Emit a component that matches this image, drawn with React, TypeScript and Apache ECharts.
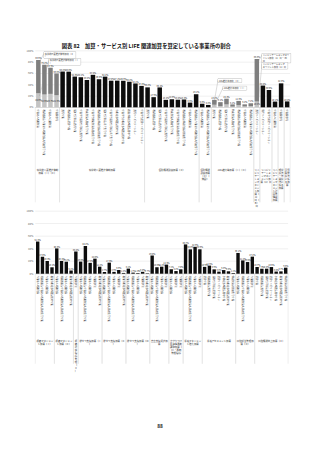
import React, { useEffect, useRef } from "react";
import * as echarts from "echarts";

const TITLE = "図表 82　加算・サービス別 LIFE 関連加算を算定している事業所の割合";
const PAGE_NO = "88";

const SVC = {
  tokuyo: "介護老人福祉施設",
  chiikiTokuyo: "地域密着型介護老人福祉施設入所者生活介護",
  roken: "介護老人保健施設",
  iryoin: "介護医療院",
  tsusho: "通所介護",
  chiikiTsusho: "地域密着型通所介護",
  ninTsusho: "認知症対応型通所介護",
  yoboNinTsusho: "介護予防認知症対応型通所介護",
  tokutei: "特定施設入居者生活介護",
  yoboTokutei: "介護予防特定施設入居者生活介護",
  chiikiTokutei: "地域密着型特定施設入居者生活介護",
  gh: "認知症対応型共同生活介護",
  yoboGh: "介護予防認知症対応型共同生活介護",
  shotaki: "小規模多機能型居宅介護",
  yoboShotaki: "介護予防小規模多機能型居宅介護",
  kantaki: "看護小規模多機能型居宅介護",
  tsuriha: "通所リハビリテーション",
  yoboTsuriha: "介護予防通所リハビリテーション",
  homonriha: "訪問リハビリテーション",
  yoboHomonriha: "介護予防訪問リハビリテーション",
};

// ---------- Chart 1 ----------
const categories1 = [
  SVC.tokuyo, SVC.chiikiTokuyo, SVC.roken, SVC.iryoin,
  SVC.tsusho, SVC.chiikiTsusho, SVC.ninTsusho, SVC.yoboNinTsusho, SVC.tokutei, SVC.yoboTokutei,
  SVC.chiikiTokutei, SVC.gh, SVC.yoboGh, SVC.shotaki, SVC.yoboShotaki, SVC.kantaki, SVC.tsuriha, SVC.yoboTsuriha,
  SVC.tsusho, SVC.chiikiTsusho, SVC.ninTsusho, SVC.yoboNinTsusho, SVC.tokutei, SVC.yoboTokutei,
  SVC.chiikiTokutei, SVC.tokuyo, SVC.chiikiTokuyo,
  SVC.tokuyo, SVC.chiikiTokuyo,
  SVC.tsusho, SVC.chiikiTsusho, SVC.ninTsusho, SVC.tokutei, SVC.chiikiTokutei, SVC.tokuyo, SVC.chiikiTokuyo,
  SVC.tsuriha,
  SVC.homonriha, SVC.yoboHomonriha,
  SVC.roken,
  SVC.iryoin,
  SVC.iryoin,
];
const lightValues1 = [
  24.8, 22.5, 23.7, 21.3,
  null, null, null, null, null, null, null, null, null, null, null, null, null, null,
  null, null, null, null, null, null, null, null, null,
  null, null,
  4.5, 2.0, 5.1, 1.2, 3.8, 1.5, 2.2,
  10.2,
  null, null, null, null, null,
];
const darkValues1 = [
  58.8, 52.7, 46.2, 38.5,
  null, null, null, null, null, null, null, null, null, null, null, null, null, null,
  null, null, null, null, null, null, null, null, null,
  null, null,
  8.7, 7.1, 10.1, 3.9, 7.5, 3.7, 4.9,
  75.1,
  null, null, null, null, null,
];
const blackValues1 = [
  null, null, null, null,
  63.2, 63.0, 54.3, 53.1, 48.2, 57.4, 49.6, 54.2, 47.0, 47.1, 46.9, 45.2, 42.1, 37.8,
  35.2, 17.9, 35.1, 13.2, 14.3, 13.4, 13.8, 8.3, 23.1,
  6.3, 4.2,
  null, null, null, null, null, null, null,
  null,
  38.4, 30.6, 10.1, 42.3, 10.4,
];
const groupSizes1 = [4, 14, 9, 2, 7, 1, 2, 1, 1, 1];
const groupLabels1 = [
  "科学的介護推進体制加算（Ⅰ）（Ⅱ）",
  "科学的介護推進体制加算",
  "個別機能訓練加算（Ⅱ）",
  "個別機能訓練加算（Ⅱ）（施設）",
  "ADL維持等加算（Ⅰ）（Ⅱ）",
  "リハビリテーションマネジメント加算（A）ロ（B）ロ",
  "リハビリテーションマネジメント加算（A）ロ",
  "リハビリテーションマネジメント計画書情報加算",
  "理学療法・作業療法に係る加算",
  "言語聴覚療法に係る加算",
];

// ---------- Chart 2 ----------
const categories2 = [
  SVC.tokuyo, SVC.chiikiTokuyo, SVC.roken, SVC.kantaki,
  SVC.tokuyo, SVC.chiikiTokuyo, SVC.roken, SVC.kantaki,
  SVC.iryoin,
  SVC.tokuyo, SVC.chiikiTokuyo, SVC.roken, SVC.iryoin, SVC.kantaki,
  SVC.tokuyo, SVC.chiikiTokuyo, SVC.roken, SVC.iryoin, SVC.kantaki,
  SVC.tokuyo, SVC.chiikiTokuyo, SVC.roken, SVC.iryoin, SVC.kantaki,
  SVC.tokuyo, SVC.chiikiTokuyo, SVC.roken, SVC.iryoin,
  SVC.roken, SVC.iryoin, SVC.iryoin,
  SVC.tokuyo, SVC.chiikiTokuyo, SVC.roken, SVC.iryoin,
  SVC.tsusho, SVC.chiikiTsusho, SVC.ninTsusho, SVC.tsuriha, SVC.shotaki, SVC.kantaki, SVC.tokutei,
  SVC.tokuyo, SVC.chiikiTokuyo, SVC.roken, SVC.iryoin,
  SVC.tsusho, SVC.chiikiTsusho, SVC.ninTsusho, SVC.tsuriha, SVC.shotaki, SVC.kantaki, SVC.tokutei,
];
const values2 = [
  51.3, 27.0, 20.3, 10.2,
  40.3, 20.4, 19.1, 5.1,
  35.4,
  19.3, 44.2, 17.3, 24.0, 11.2,
  2.7, 17.6, 2.9, 5.9, 1.2,
  8.1, 1.7, 1.0, 3.0, 0.7,
  29.0, 10.3, 11.2, 14.5,
  7.1, 4.2, 7.0,
  46.7, 38.8, 42.9, 38.9,
  10.9, 12.9, 6.9, 3.3, 5.8, 3.8, 1.1,
  33.1, 21.2, 18.6, 27.2,
  10.7, 7.9, 8.0, 10.6, 3.4, 3.7, 9.6,
];
const groupSizes2 = [4, 4, 1, 5, 5, 5, 4, 3, 4, 7, 4, 7];
const groupLabels2 = [
  "褥瘡マネジメント加算（Ⅰ）",
  "褥瘡マネジメント加算（Ⅱ）",
  "褥瘡対策指導管理（Ⅱ）",
  "排せつ支援加算（Ⅰ）",
  "排せつ支援加算（Ⅱ）",
  "排せつ支援加算（Ⅲ）",
  "自立支援促進加算",
  "かかりつけ医連携薬剤調整加算（Ⅱ）・薬剤管理指導",
  "栄養マネジメント強化加算",
  "栄養アセスメント加算",
  "口腔衛生管理加算（Ⅱ）",
  "口腔機能向上加算（Ⅱ）",
];

const FONT = "'Noto Sans CJK JP', 'Noto Sans', sans-serif";
const K = 3; // render at 3x and scale down so tiny fonts are not clamped
const s = (v: number) => v * K;
const fmt = (v: number) => v.toFixed(1) + "%";

function groupSeries(axisIndex: number, sizes: number[], labels: string[], lineLen: number, labelDy: number) {
  const starts: number[] = [];
  let acc = 0;
  sizes.forEach((n) => {
    starts.push(acc);
    acc += n;
  });
  return {
    type: "custom",
    xAxisIndex: axisIndex,
    yAxisIndex: axisIndex,
    clip: false,
    silent: true,
    z: 1,
    encode: { x: 0, y: 1 },
    data: sizes.map((n, i) => [starts[i], 0, starts[i] + n - 1, i]),
    renderItem: (_params: any, api: any) => {
      const st = api.value(0);
      const en = api.value(2);
      const gi = api.value(3);
      const bw = api.size([1, 0])[0];
      const p0 = api.coord([st, 0]);
      const p1 = api.coord([en, 0]);
      const x0 = p0[0] - bw / 2;
      const x1 = p1[0] + bw / 2;
      const y0 = p0[1];
      return {
        type: "group",
        children: [
          { type: "line", shape: { x1: x0, y1: y0, x2: x0, y2: y0 + s(lineLen) }, style: { stroke: "#d4d4d4", lineWidth: s(0.4) } },
          { type: "line", shape: { x1: x1, y1: y0, x2: x1, y2: y0 + s(lineLen) }, style: { stroke: "#d4d4d4", lineWidth: s(0.4) } },
          {
            type: "text",
            style: {
              text: labels[gi],
              x: (x0 + x1) / 2,
              y: y0 + s(labelDy),
              width: Math.max(x1 - x0 - s(1), s(3)),
              overflow: "break",
              fontSize: s(2.4),
              lineHeight: s(3),
              fill: "#333",
              align: "center",
              verticalAlign: "top",
              fontFamily: FONT,
            },
          },
        ],
      };
    },
  };
}

function callout(text: string, x: number, y: number, w: number, lx: number, ly: number) {
  return [
    { type: "line", shape: { x1: s(x), y1: s(y + 1.5), x2: s(lx), y2: s(ly) }, style: { stroke: "#888", lineWidth: s(0.3) }, silent: true, z: 10 },
    {
      type: "text",
      x: s(x),
      y: s(y),
      z: 11,
      style: {
        text,
        width: s(w),
        overflow: "break",
        fontSize: s(2.2),
        lineHeight: s(2.8),
        fill: "#333",
        fontFamily: FONT,
        backgroundColor: "#fff",
        borderColor: "#999",
        borderWidth: s(0.3),
        padding: [s(0.4), s(0.8)],
      },
      silent: true,
    },
  ];
}

export default function App() {
  const ref = useRef<HTMLDivElement>(null);
  useEffect(() => {
    if (!ref.current) return;
    const chart = echarts.init(ref.current, null, { renderer: "svg" });
    const axisLabelY = { fontSize: s(2.6), color: "#666", margin: s(2), formatter: "{value}%", fontFamily: FONT };
    const splitLine = { show: true, lineStyle: { color: "#d9d9d9", width: s(0.4) } };
    const catLabel = { fontSize: s(2.3), color: "#333", margin: s(2), rotate: -90, interval: 0, fontFamily: FONT };
    const barLabel = { show: true, position: "top", fontSize: s(2.2), distance: s(0.8), color: "#222", fontFamily: FONT };
    const option: any = {
      animation: false,
      backgroundColor: "#fff",
      textStyle: { fontFamily: FONT },
      title: {
        text: TITLE,
        left: s(60),
        top: s(41.3),
        textStyle: { fontSize: s(5.3), fontWeight: "bold", color: "#111", fontFamily: FONT },
      },
      grid: [
        { left: s(35.3), width: s(254.9), top: s(50.7), height: s(56.6) },
        { left: s(35.3), width: s(252.8), top: s(211), height: s(62.7) },
      ],
      xAxis: [
        {
          type: "category",
          gridIndex: 0,
          data: categories1,
          axisTick: { show: false },
          axisLine: { lineStyle: { color: "#bfbfbf", width: s(0.4) } },
          axisLabel: catLabel,
        },
        {
          type: "category",
          gridIndex: 1,
          data: categories2,
          axisTick: { show: false },
          axisLine: { lineStyle: { color: "#bfbfbf", width: s(0.4) } },
          axisLabel: catLabel,
        },
      ],
      yAxis: [
        { type: "value", gridIndex: 0, min: 0, max: 100, interval: 20, axisLabel: axisLabelY, splitLine, axisLine: { show: false }, axisTick: { show: false } },
        { type: "value", gridIndex: 1, min: 0, max: 100, interval: 20, axisLabel: axisLabelY, splitLine, axisLine: { show: false }, axisTick: { show: false } },
      ],
      series: [
        {
          name: "加算（Ⅰ）",
          type: "bar",
          stack: "c1",
          xAxisIndex: 0,
          yAxisIndex: 0,
          barWidth: s(4.5),
          data: lightValues1,
          itemStyle: { color: "#c4c4c4" },
          label: { ...barLabel, position: "inside", formatter: (p: any) => (p.value >= 8 ? fmt(p.value) : "") },
        },
        {
          name: "加算（Ⅱ）",
          type: "bar",
          stack: "c1",
          xAxisIndex: 0,
          yAxisIndex: 0,
          barWidth: s(4.5),
          data: darkValues1,
          itemStyle: { color: "#7f7f7f" },
          label: { ...barLabel, formatter: (p: any) => fmt((lightValues1[p.dataIndex] || 0) + p.value) },
        },
        {
          name: "算定あり",
          type: "bar",
          stack: "c1",
          xAxisIndex: 0,
          yAxisIndex: 0,
          barWidth: s(4.5),
          data: blackValues1,
          itemStyle: { color: "#0d0d0d" },
          label: { ...barLabel, formatter: (p: any) => fmt(p.value) },
        },
        {
          name: "算定あり2",
          type: "bar",
          xAxisIndex: 1,
          yAxisIndex: 1,
          barWidth: s(3.4),
          data: values2,
          itemStyle: { color: "#0d0d0d" },
          label: { ...barLabel, formatter: (p: any) => fmt(p.value) },
        },
        groupSeries(0, groupSizes1, groupLabels1, 95, 61),
        groupSeries(1, groupSizes2, groupLabels2, 90, 65.5),
      ],
      graphic: [
        ...callout("科学的介護推進体制加算（Ⅱ）", 44, 51.8, 30, 39.5, 62),
        ...callout("科学的介護推進体制加算（Ⅰ）", 49, 58.6, 30, 39.5, 96),
        ...callout("ADL維持等加算（Ⅱ）", 218, 78.8, 22, 214.5, 100),
        ...callout("ADL維持等加算（Ⅰ）", 223, 86.4, 22, 214.5, 105.5),
        ...callout("リハビリテーションマネジメント加算（A）ロ・（B）ロ", 262, 53.5, 27, 258, 62),
        ...callout("リハビリテーションマネジメント加算（A）ロ", 262, 62.5, 24, 258, 104),
        {
          type: "text",
          x: s(160),
          y: s(425.8),
          style: { text: PAGE_NO, fontSize: s(4.8), fill: "#222", align: "center", verticalAlign: "middle", fontFamily: FONT, fontWeight: "bold" },
        },
      ],
    };
    chart.setOption(option);
    return () => chart.dispose();
  }, []);
  return (
    <div
      ref={ref}
      style={{
        position: "fixed",
        left: 0,
        top: 0,
        width: 320 * K,
        height: 453 * K,
        background: "#fff",
        transform: `scale(${1 / K})`,
        transformOrigin: "0 0",
      }}
    />
  );
}
